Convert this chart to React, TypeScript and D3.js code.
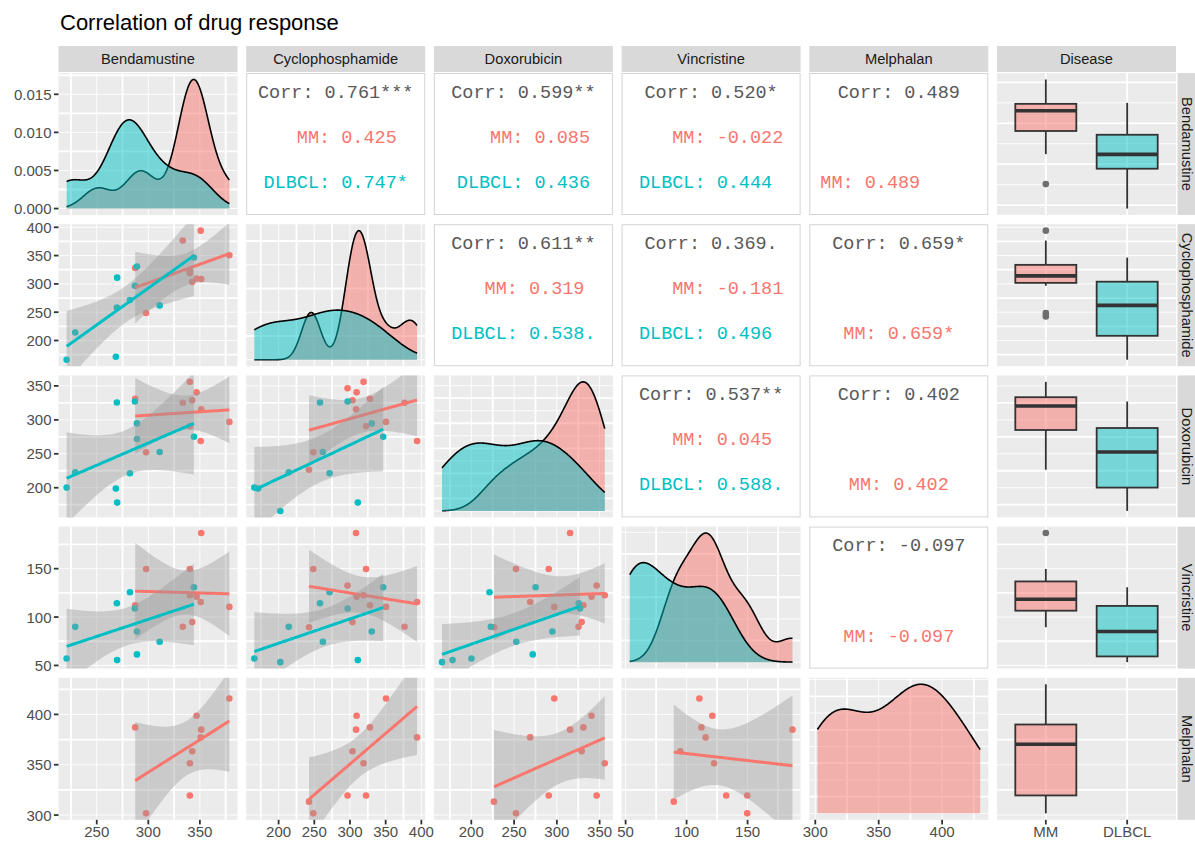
import React from "react";
import * as d3 from "d3";

const drugs = ["Bendamustine", "Cyclophosphamide", "Doxorubicin", "Vincristine", "Melphalan"];
const groups = ["MM", "DLBCL"];
const groupColors = ["#F8766D", "#00BFC4"];

// one entry per sample, NaN = not measured
const mmBenda = [350.8, 333.4, 287.3, 340.3, 340.3, 342.6, 346.8, 351.3, 378.6, 297.8, NaN, NaN, 250.7, NaN];
const mmCyclo = [394.0, 376.5, 328.0, 319.0, 322.5, 303.5, 309.3, 308.5, 350.5, 248.6, 296.6, 242.6, NaN, NaN];
const mmDoxo = [268.8, 325.3, 331.0, 356.0, 290.5, 329.0, 340.5, 315.5, 297.0, 252.2, 346.5, 226.5, NaN, NaN];
const mmVinc = [115.6, 89.9, 112.2, 122.5, 149.7, 94.8, 121.1, 186.8, 110.5, 149.7, 132.5, 89.5, NaN, NaN];
const mmMelph = [377.2, NaN, 387.1, 351.5, 319.5, 363.4, 398.7, 384.9, 415.8, 301.7, 319.5, 313.3, NaN, 430.0];

const dlbclBenda = [220.8, 229.1, 269.8, 268.5, 269.5, 282.2, 287.0, 289.0, 311.0, 344.2, NaN, 289.0, 320.0, 350.0, NaN];
const dlbclCyclo = [166.0, 214.2, 311.0, 171.4, 258.0, 271.4, 296.7, 330.5, 262.0, 346.5, 202.4, NaN, NaN, NaN, NaN];
const dlbclDoxo = [200.2, 222.8, 178.1, 198.7, 325.5, 221.3, 327.0, 294.8, 252.6, 275.2, 165.8, 271.8, NaN, NaN, 288.0];
const dlbclVinc = [57.2, 89.9, 55.5, NaN, 114.2, 125.6, 108.8, 85.0, 74.4, 130.8, 53.4, 61.4, NaN, NaN, NaN];
const dlbclMelph = [NaN, NaN, NaN, NaN, NaN, NaN, NaN, NaN, NaN, NaN, NaN, NaN, NaN, NaN, NaN];

// axis ticks
const drugTicks = [
  [250, 300, 350],
  [200, 250, 300, 350, 400],
  [200, 250, 300, 350],
  [50, 100, 150],
  [300, 350, 400],
];
const densityTicks = [0, 0.005, 0.01, 0.015];
const densityLabels = ["0.000", "0.005", "0.010", "0.015"];

// upper triangle correlations ("NA" = group present, no pairs)
const corrRow = [0, 0, 0, 0, 1, 1, 1, 2, 2, 3];
const corrCol = [1, 2, 3, 4, 2, 3, 4, 3, 4, 4];
const corrAll = ["0.761***", "0.599**", "0.520*", "0.489", "0.611**", "0.369.", "0.659*", "0.537**", "0.402", "-0.097"];
const corrMM = ["0.425", "0.085", "-0.022", "0.489", "0.319", "-0.181", "0.659*", "0.045", "0.402", "-0.097"];
const corrDLBCL = ["0.747*", "0.436", "0.444", "NA", "0.538.", "0.496", "", "0.588.", "", ""];

// t quantiles (0.975) by degrees of freedom
const t975 = [NaN, 12.706, 4.303, 3.182, 2.776, 2.571, 2.447, 2.365, 2.306, 2.262, 2.228, 2.201, 2.179, 2.16, 2.145];

const sans = "'Liberation Sans', Arial, Helvetica, sans-serif";
const mono = "'Liberation Mono', 'Courier New', monospace";

const LEFT = 58.5, TOP = 73, PW = 179, PH = 142, GX = 8.7, GY = 9.2;
const colX = (j: number) => LEFT + j * (PW + GX);
const rowY = (i: number) => TOP + i * (PH + GY);

const valid = (a: number[]) => a.filter((v) => !Number.isNaN(v));
const expand = (e: number[]) => {
  const d = e[1] - e[0];
  return [e[0] - 0.05 * d, e[1] + 0.05 * d];
};

function bwNrd0(v: number[]) {
  const s = [...v].sort((a, b) => a - b);
  const sd = d3.deviation(s) as number;
  const iqr = (d3.quantile(s, 0.75) as number) - (d3.quantile(s, 0.25) as number);
  const lo = Math.min(sd, iqr / 1.34) || sd;
  return 0.9 * lo * Math.pow(v.length, -0.2);
}

function kdeAt(v: number[], h: number, x: number) {
  return d3.sum(v, (xi) => Math.exp(-0.5 * ((x - xi) / h) ** 2)) / (v.length * h * Math.sqrt(2 * Math.PI));
}

function halfSteps(ticks: number[], dom: number[]) {
  const step = ticks[1] - ticks[0];
  const out: number[] = [];
  for (let v = ticks[0] - step * 20 + step / 2; v <= dom[1]; v += step) if (v >= dom[0]) out.push(v);
  return out;
}

function boxStats(v: number[]) {
  const s = [...v].sort((a, b) => a - b);
  const q1 = d3.quantile(s, 0.25) as number;
  const med = d3.quantile(s, 0.5) as number;
  const q3 = d3.quantile(s, 0.75) as number;
  const iqr = q3 - q1;
  const inside = s.filter((x) => x >= q1 - 1.5 * iqr && x <= q3 + 1.5 * iqr);
  return { q1, med, q3, lo: inside[0], hi: inside[inside.length - 1], out: s.filter((x) => x < q1 - 1.5 * iqr || x > q3 + 1.5 * iqr) };
}

function fit(xv: number[], yv: number[]) {
  const n = xv.length;
  const mx = d3.mean(xv) as number, my = d3.mean(yv) as number;
  const sxx = d3.sum(xv, (x) => (x - mx) ** 2);
  const sxy = d3.sum(xv, (x, i) => (x - mx) * (yv[i] - my));
  const b = sxy / sxx, a = my - b * mx;
  const s = Math.sqrt(d3.sum(xv, (x, i) => (yv[i] - a - b * x) ** 2) / (n - 2));
  const t = t975[n - 2];
  const [x0, x1] = d3.extent(xv) as number[];
  return d3.range(80).map((k) => {
    const x = x0 + ((x1 - x0) * k) / 79;
    const yh = a + b * x;
    const se = s * Math.sqrt(1 / n + (x - mx) ** 2 / sxx);
    return { x, y: yh, lo: yh - t * se, hi: yh + t * se };
  });
}

// panel background: strong white lines half a step off the labelled ticks, thin ones on them
function Grid({ xs, ys, xT, yT, discreteX = false }: any) {
  const xd = xs.domain(), yd = ys.domain();
  const inY = (v: number) => v >= yd[0] && v <= yd[1];
  const inX = (v: number) => v >= xd[0] && v <= xd[1];
  return (
    <g>
      <rect width={PW} height={PH} fill="#EBEBEB" />
      {yT.filter(inY).map((v: number, i: number) => (
        <line key={"yt" + i} x1={0} x2={PW} y1={ys(v)} y2={ys(v)} stroke="#fff" strokeWidth={0.9} />
      ))}
      {!discreteX && xT.filter(inX).map((v: number, i: number) => (
        <line key={"xt" + i} y1={0} y2={PH} x1={xs(v)} x2={xs(v)} stroke="#fff" strokeWidth={0.9} />
      ))}
      {halfSteps(yT, yd).map((v, i) => (
        <line key={"yh" + i} x1={0} x2={PW} y1={ys(v)} y2={ys(v)} stroke="#fff" strokeWidth={1.8} />
      ))}
      {discreteX
        ? xT.map((v: number, i: number) => (
            <line key={"xd" + i} y1={0} y2={PH} x1={xs(v)} x2={xs(v)} stroke="#fff" strokeWidth={1.8} />
          ))
        : halfSteps(xT, xd).map((v, i) => (
            <line key={"xh" + i} y1={0} y2={PH} x1={xs(v)} x2={xs(v)} stroke="#fff" strokeWidth={1.8} />
          ))}
    </g>
  );
}

export default function App() {
  const byGroup = [
    [mmBenda, mmCyclo, mmDoxo, mmVinc, mmMelph],
    [dlbclBenda, dlbclCyclo, dlbclDoxo, dlbclVinc, dlbclMelph],
  ];
  const ext = drugs.map((_, k) => d3.extent(valid([...byGroup[0][k], ...byGroup[1][k]])) as number[]);
  const xs = ext.map((e) => d3.scaleLinear().domain(expand(e)).range([0, PW]));
  const ys = ext.map((e) => d3.scaleLinear().domain(expand(e)).range([PH, 0]));

  const dens = drugs.map((_, k) => {
    const grid = d3.range(512).map((i) => ext[k][0] + ((ext[k][1] - ext[k][0]) * i) / 511);
    const curves = byGroup.map((g) => {
      const v = valid(g[k]);
      if (v.length < 2) return null;
      const h = bwNrd0(v);
      return grid.map((x) => [x, kdeAt(v, h, x)]);
    });
    const maxD = d3.max(curves.filter(Boolean).flat() as number[][], (p) => p[1]) as number;
    const yd = d3.scaleLinear().domain([-0.05 * maxD, 1.05 * maxD]).range([PH, 0]);
    return { curves, yd };
  });

  const xDisease = d3.scaleLinear().domain([0.4, 2.6]).range([0, PW]);
  const panels: any[] = [];

  for (let i = 0; i < 5; i++) {
    for (let j = 0; j < 6; j++) {
      const key = `p${i}${j}`;
      const tr = `translate(${colX(j)},${rowY(i)})`;
      if (j === 5) {
        // boxplots by disease
        panels.push(
          <g key={key} transform={tr}>
            <Grid xs={xDisease} ys={ys[i]} xT={[1, 2]} yT={drugTicks[i]} discreteX />
            {byGroup.map((g, gi) => {
              const v = valid(g[i]);
              if (!v.length) return null;
              const st = boxStats(v);
              const cx = xDisease(gi + 1);
              const hw = xDisease(0.375) - xDisease(0);
              const y = ys[i];
              return (
                <g key={gi}>
                  <line x1={cx} x2={cx} y1={y(st.q3)} y2={y(st.hi)} stroke="#333" strokeWidth={1.8} />
                  <line x1={cx} x2={cx} y1={y(st.q1)} y2={y(st.lo)} stroke="#333" strokeWidth={1.8} />
                  <rect x={cx - hw} width={2 * hw} y={y(st.q3)} height={y(st.q1) - y(st.q3)} fill={groupColors[gi]} fillOpacity={0.5} stroke="#333" strokeWidth={1.8} />
                  <line x1={cx - hw} x2={cx + hw} y1={y(st.med)} y2={y(st.med)} stroke="#333" strokeWidth={3.6} />
                  {st.out.map((o, k) => (
                    <circle key={k} cx={cx} cy={y(o)} r={3.3} fill="#6e6e6e" />
                  ))}
                </g>
              );
            })}
          </g>
        );
      } else if (i === j) {
        const { curves, yd } = dens[i];
        const xsc = xs[i];
        const area = d3.area<number[]>().x((p) => xsc(p[0])).y0(yd(0)).y1((p) => yd(p[1]));
        const line = d3.line<number[]>().x((p) => xsc(p[0])).y((p) => yd(p[1]));
        panels.push(
          <g key={key} transform={tr}>
            <Grid xs={xsc} ys={yd} xT={drugTicks[i]} yT={i === 0 ? densityTicks : yd.ticks(4)} />
            {curves.map((c, gi) =>
              c ? (
                <g key={gi}>
                  <path d={area(c) as string} fill={groupColors[gi]} fillOpacity={0.5} />
                  <path d={line(c) as string} fill="none" stroke="#000" strokeWidth={1.6} />
                </g>
              ) : null
            )}
          </g>
        );
      } else if (i > j) {
        // scatter with linear fit: x = drug j, y = drug i
        const xsc = xs[j], ysc = ys[i];
        const pairs = byGroup.map((g) =>
          g[j].map((x, k) => [x, g[i][k]]).filter((p) => !Number.isNaN(p[0]) && !Number.isNaN(p[1]))
        );
        const fits = pairs.map((p) => (p.length > 2 ? fit(p.map((q) => q[0]), p.map((q) => q[1])) : null));
        const band = d3.area<any>().x((d) => xsc(d.x)).y0((d) => ysc(d.lo)).y1((d) => ysc(d.hi));
        const ln = d3.line<any>().x((d) => xsc(d.x)).y((d) => ysc(d.y));
        panels.push(
          <g key={key} transform={tr}>
            <clipPath id={"clip" + key}>
              <rect width={PW} height={PH} />
            </clipPath>
            <Grid xs={xsc} ys={ysc} xT={drugTicks[j]} yT={drugTicks[i]} />
            <g clipPath={`url(#clip${key})`}>
              {pairs.map((p, gi) =>
                p.map((q, k) => <circle key={gi + "-" + k} cx={xsc(q[0])} cy={ysc(q[1])} r={3.3} fill={groupColors[gi]} />)
              )}
              {fits.map((f, gi) =>
                f ? (
                  <g key={"f" + gi}>
                    <path d={band(f) as string} fill="#999999" fillOpacity={0.4} />
                    <path d={ln(f) as string} fill="none" stroke={groupColors[gi]} strokeWidth={3} />
                  </g>
                ) : null
              )}
            </g>
          </g>
        );
      } else {
        // correlation text
        const idx = corrRow.findIndex((r, k) => r === i && corrCol[k] === j);
        const all = [
          { name: groups[0], val: corrMM[idx], color: groupColors[0] },
          { name: groups[1], val: corrDLBCL[idx], color: groupColors[1] },
        ];
        const hasNA = all.some((e) => e.val === "NA");
        const entries = all.filter((e) => e.val !== "" && e.val !== "NA");
        const nw = d3.max(entries, (e) => e.name.length) as number;
        const vw = d3.max(entries, (e) => e.val.length) as number;
        const slotY = [PH * 0.141, PH * 0.46, PH * 0.778];
        panels.push(
          <g key={key} transform={tr}>
            <rect x={0.5} y={0.5} width={PW - 1} height={PH - 1} fill="#fff" stroke="#d4d4d4" strokeWidth={1} />
            <text x={PW / 2} y={slotY[0]} textAnchor="middle" dominantBaseline="central" fontFamily={mono} fontSize={18.5} fill="#595959" xmlSpace="preserve" style={{ whiteSpace: "pre" }}>
              {"Corr: " + corrAll[idx]}
            </text>
            {entries.map((e, k) => {
              const label = e.name.padStart(nw, " ") + ": " + e.val.padEnd(vw, " ");
              const slot = entries.length === 1 ? 2 : k + 1;
              return (
                <text key={k} x={hasNA ? 11 : PW / 2} y={slotY[slot]} textAnchor={hasNA ? "start" : "middle"} dominantBaseline="central" fontFamily={mono} fontSize={18.5} fill={e.color} xmlSpace="preserve" style={{ whiteSpace: "pre" }}>
                  {label}
                </text>
              );
            })}
          </g>
        );
      }
    }
  }

  // left axes
  const leftAxes: any[] = [];
  for (let i = 0; i < 5; i++) {
    const sc = i === 0 ? dens[0].yd : ys[i];
    const ticks = i === 0 ? densityTicks : drugTicks[i];
    const labels = i === 0 ? densityLabels : drugTicks[i].map(String);
    ticks.forEach((t, k) => {
      const y = rowY(i) + sc(t);
      leftAxes.push(
        <g key={`la${i}-${k}`}>
          <line x1={LEFT - 4.6} x2={LEFT} y1={y} y2={y} stroke="#333" strokeWidth={1.8} />
          <text x={LEFT - 7} y={y} textAnchor="end" dominantBaseline="central" fontFamily={sans} fontSize={15} fill="#4D4D4D">
            {labels[k]}
          </text>
        </g>
      );
    });
  }

  // bottom axes
  const bottomY = rowY(4) + PH;
  const bottomAxes: any[] = [];
  for (let j = 0; j < 6; j++) {
    const sc = j === 5 ? xDisease : xs[j];
    const ticks = j === 5 ? [1, 2] : drugTicks[j];
    const labels = j === 5 ? groups : drugTicks[j].map(String);
    ticks.forEach((t, k) => {
      const x = colX(j) + sc(t);
      bottomAxes.push(
        <g key={`ba${j}-${k}`}>
          <line x1={x} x2={x} y1={bottomY} y2={bottomY + 4.6} stroke="#333" strokeWidth={1.8} />
          <text x={x} y={bottomY + 17} textAnchor="middle" fontFamily={sans} fontSize={15} fill="#4D4D4D">
            {labels[k]}
          </text>
        </g>
      );
    });
  }

  const colLabels = [...drugs, "Disease"];

  return (
    <svg width={1195} height={842} style={{ position: "absolute", left: 0, top: 0 }}>
      <rect width={1195} height={842} fill="#fff" />
      <text x={60} y={30} fontFamily={sans} fontSize={22} fill="#000">
        Correlation of drug response
      </text>
      {colLabels.map((d, j) => (
        <g key={"cs" + j}>
          <rect x={colX(j)} y={46} width={PW} height={26} fill="#D9D9D9" />
          <text x={colX(j) + PW / 2} y={59} textAnchor="middle" dominantBaseline="central" fontFamily={sans} fontSize={14.7} fill="#1A1A1A">
            {d}
          </text>
        </g>
      ))}
      {drugs.map((d, i) => (
        <g key={"rs" + i}>
          <rect x={colX(5) + PW + 1.5} y={rowY(i)} width={20} height={PH} fill="#D9D9D9" />
          <text transform={`translate(${colX(5) + PW + 10.5},${rowY(i) + PH / 2}) rotate(90)`} textAnchor="middle" dominantBaseline="central" fontFamily={sans} fontSize={14.7} fill="#1A1A1A">
            {d}
          </text>
        </g>
      ))}
      {panels}
      {leftAxes}
      {bottomAxes}
    </svg>
  );
}
